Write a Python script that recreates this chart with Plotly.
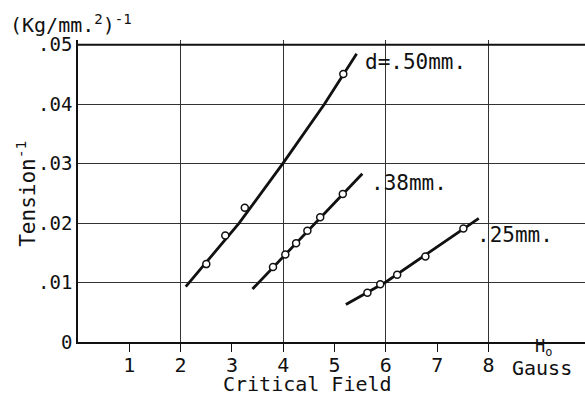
import plotly.graph_objects as go

# Measured points: wire diameter d, critical field H0 (gauss), inverse tension (kg/mm^2)^-1
field_50 = [2.50, 2.87, 3.25, 5.17]
tinv_50 = [0.0131, 0.0179, 0.0226, 0.0451]

field_38 = [3.80, 4.04, 4.25, 4.47, 4.72, 5.16]
tinv_38 = [0.0126, 0.0147, 0.0166, 0.0187, 0.0210, 0.0249]

field_25 = [5.64, 5.89, 6.22, 6.77, 7.51]
tinv_25 = [0.0083, 0.0097, 0.0113, 0.0144, 0.0191]

# Hand-drawn fitted curves through each set
curve_50_x = [2.10, 3.14, 3.99, 4.80, 5.43]
curve_50_y = [0.0093, 0.0200, 0.0300, 0.0400, 0.0485]
curve_38_x = [3.40, 5.54]
curve_38_y = [0.0089, 0.0283]
curve_25_x = [5.22, 6.00, 7.81]
curve_25_y = [0.0063, 0.0101, 0.0208]

series_labels = ["d=.50mm.", ".38mm.", ".25mm."]
label_x = [5.55, 5.68, 7.74]
label_y = [0.0471, 0.0267, 0.0180]

x_ticks = [1, 2, 3, 4, 5, 6, 7, 8]
x_grid = [2, 4, 6, 8]
y_ticks = [0, 0.01, 0.02, 0.03, 0.04, 0.05]
y_ticktext = ["0", ".01", ".02", ".03", ".04", ".05"]

FONT = "DejaVu Sans Mono"
INK = "#111111"
GRID = "#333333"
x_max = 9.88
y_max = 0.0508

fig = go.Figure()

# Top frame line of the graph paper, at the highest ruled value
fig.add_trace(go.Scatter(x=[0, x_max], y=[y_ticks[-1], y_ticks[-1]], mode="lines",
                         line=dict(color=INK, width=1.8),
                         hoverinfo="skip", showlegend=False))

for cx, cy in [(curve_50_x, curve_50_y), (curve_38_x, curve_38_y), (curve_25_x, curve_25_y)]:
    fig.add_trace(go.Scatter(x=cx, y=cy, mode="lines",
                             line=dict(color=INK, width=2.8),
                             hoverinfo="skip", showlegend=False))

for fx, ty in [(field_50, tinv_50), (field_38, tinv_38), (field_25, tinv_25)]:
    fig.add_trace(go.Scatter(x=fx, y=ty, mode="markers",
                             marker=dict(symbol="circle", size=7, color="white",
                                         line=dict(color=INK, width=1.5)),
                             showlegend=False))

# Overlay axis that carries only the vertical rulings at every second gauss
fig.add_trace(go.Scatter(x=[None], y=[None], xaxis="x2", showlegend=False))

for text, lx, ly in zip(series_labels, label_x, label_y):
    fig.add_annotation(x=lx, y=ly, text=text, showarrow=False,
                       xanchor="left", yanchor="middle",
                       font=dict(family=FONT, size=21, color=INK))

fig.update_layout(
    width=585, height=398,
    margin=dict(l=78, r=0, t=40, b=56),
    paper_bgcolor="white", plot_bgcolor="white",
    font=dict(family=FONT, color=INK),
    xaxis=dict(range=[0, x_max], tickvals=x_ticks, ticktext=[str(v) for v in x_ticks],
               showgrid=False, zeroline=False, showline=True,
               linecolor=INK, linewidth=1.6,
               ticks="outside", ticklen=8, tickwidth=1.4, tickcolor=INK,
               ticklabelstandoff=-4,
               tickfont=dict(family=FONT, size=20, color=INK)),
    xaxis2=dict(range=[0, x_max], overlaying="x", tickvals=x_grid, showticklabels=False,
                showgrid=True, gridcolor=GRID, gridwidth=1.3, zeroline=False,
                showline=False, ticks=""),
    yaxis=dict(range=[0, y_max], tickvals=y_ticks, ticktext=y_ticktext,
               showgrid=True, gridcolor=GRID, gridwidth=1.3, zeroline=False,
               showline=True, linecolor=INK, linewidth=1.6, ticks="",
               tickfont=dict(family=FONT, size=19, color=INK)),
)

# Axis titles and units
fig.add_annotation(xref="paper", yref="paper", x=-0.103, y=0.49,
                   text="Tension<sup>-1</sup>", textangle=-90, showarrow=False,
                   xanchor="center", yanchor="middle",
                   font=dict(family=FONT, size=21, color=INK))
fig.add_annotation(xref="x", yref="paper", x=4.47, y=-0.140,
                   text="Critical Field", showarrow=False,
                   xanchor="center", yanchor="middle",
                   font=dict(family=FONT, size=20, color=INK))
fig.add_annotation(xref="paper", yref="paper", x=-0.138, y=1.052,
                   text="(Kg/mm.<sup>2</sup>)<sup>-1</sup>", showarrow=False,
                   xanchor="left", yanchor="middle",
                   font=dict(family=FONT, size=20, color=INK))
fig.add_annotation(xref="x", yref="paper", x=8.87, y=-0.018,
                   text="H<sub>o</sub>", showarrow=False,
                   xanchor="left", yanchor="middle",
                   font=dict(family=FONT, size=17, color=INK))
fig.add_annotation(xref="x", yref="paper", x=8.42, y=-0.087,
                   text="Gauss", showarrow=False,
                   xanchor="left", yanchor="middle",
                   font=dict(family=FONT, size=20, color=INK))

fig.write_html("out.html")
